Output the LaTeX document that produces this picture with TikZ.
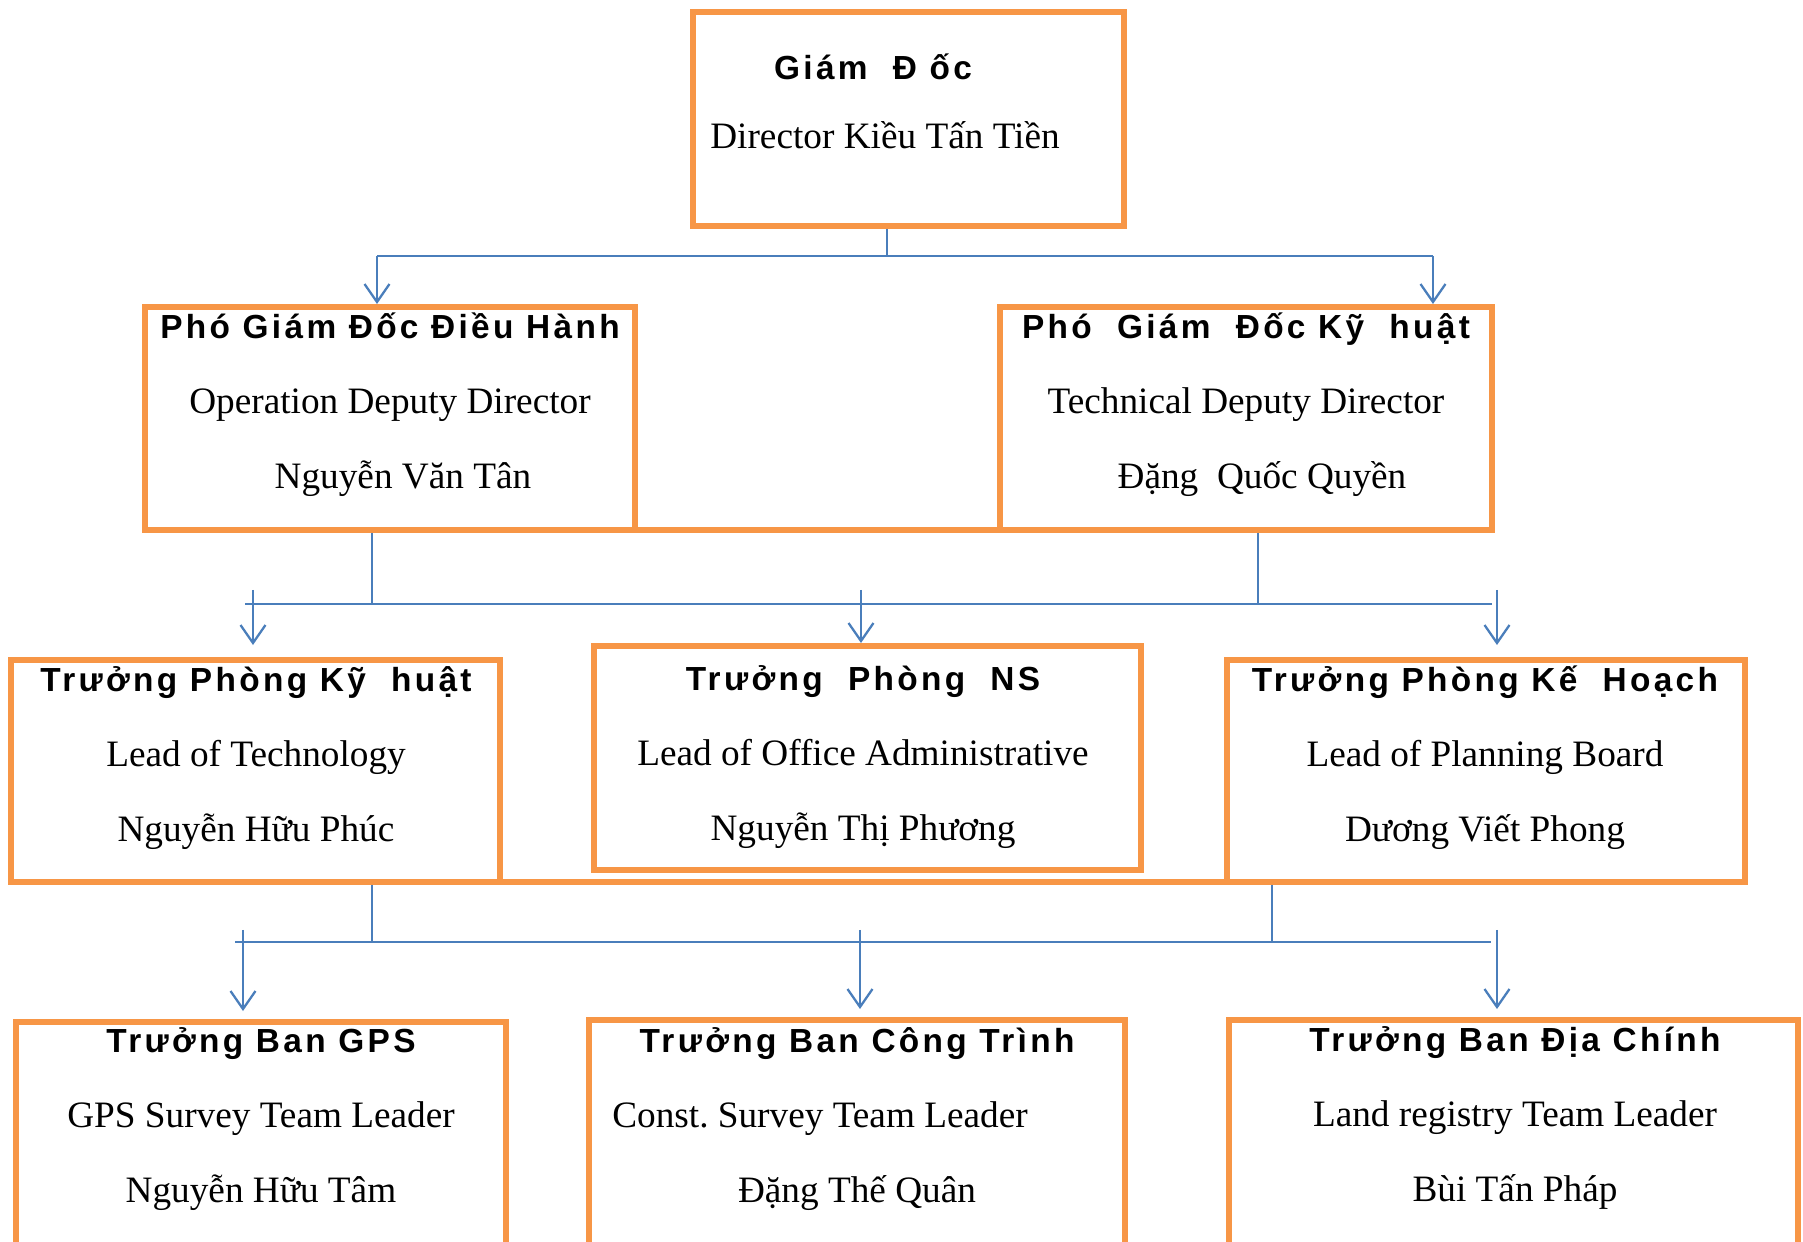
\documentclass[tikz,border=0pt]{standalone}
\usepackage{fontspec}
\setmainfont{Liberation Serif}
\newfontfamily\ttlfont{Liberation Sans}[LetterSpace=10]
\usetikzlibrary{arrows.meta}
\definecolor{boxorange}{HTML}{F79646}
\definecolor{lineblue}{HTML}{4A7EBB}
\newcommand{\ttl}[1]{{\fontsize{9.5}{21.34}\selectfont\ttlfont\bfseries #1}}
\frenchspacing

\begin{document}
\begin{tikzpicture}[y=-1cm,
    box/.style={draw=boxorange, line width=1.7pt, inner sep=0pt, minimum height=2.23cm},
    boxjoin/.style={draw=boxorange, line width=1.7pt},
    txt/.style={anchor=base, align=center, inner sep=0pt, font=\fontsize{10.6}{21.34}\selectfont},
    link/.style={draw=lineblue, line width=0.65pt},
    arr/.style={link, -{Straight Barb[length=0.18cm, width=0.25cm]}}]
    \useasboundingbox (0,0) rectangle (18.03,12.42);
    \clip (0,0) rectangle (18.03,12.42);

    \node[box, minimum width=4.31cm, minimum height=2.14cm] (gd) at (9.085,1.19) {};
    \node[txt] (gd-t) at (8.85,1.49) {\ttl{Giám\ \ Đ ốc}\kern0.24cm\\[-0.06cm] Director Kiều Tấn Tiền};

    \node[box, minimum width=4.90cm] (opdep) at (3.90,4.185) {};
    \node[txt] (opdep-t) at (3.90,4.89) {\ttl{Phó Giám Đốc Điều Hành}\\ Operation Deputy Director\\ \hspace*{0.26cm}Nguyễn Văn Tân};
    \node[box, minimum width=4.92cm] (tecdep) at (12.46,4.185) {};
    \node[txt] (tecdep-t) at (12.46,4.89) {\ttl{Phó\ \ Giám\ \ Đốc Kỹ\ \ huật}\\ Technical Deputy Director\\ \hspace*{0.32cm}Đặng\ \ Quốc Quyền};

    \node[box, minimum width=4.89cm, minimum height=2.22cm] (tpkt) at (2.555,7.71) {};
    \node[txt] (tpkt-t) at (2.56,8.42) {\ttl{Trưởng Phòng Kỹ\ \ huật}\\ Lead of Technology\\ Nguyễn Hữu Phúc};
    \node[box, minimum width=5.47cm, minimum height=2.24cm] (tpns) at (8.675,7.58) {};
    \node[txt] (tpns-t) at (8.63,8.41) {\ttl{Trưởng\ \ Phòng\ \ NS}\\ Lead of Office Administrative\\ Nguyễn Thị Phương};
    \node[box, minimum width=5.18cm, minimum height=2.22cm] (tpkh) at (14.86,7.71) {};
    \node[txt] (tpkh-t) at (14.85,8.42) {\ttl{Trưởng Phòng Kế\ \ Hoạch}\\ Lead of Planning Board\\ Dương Viết Phong};

    \node[box, minimum width=4.90cm, minimum height=2.60cm] (tbgps) at (2.61,11.52) {};
    \node[txt] (tbgps-t) at (2.61,12.03) {\ttl{Trưởng Ban GPS}\\ GPS Survey Team Leader\\ Nguyễn Hữu Tâm};
    \node[box, minimum width=5.36cm, minimum height=2.60cm] (tbct) at (8.57,11.50) {};
    \node[txt] (tbct-t) at (8.57,12.03) {\ttl{Trưởng Ban Công Trình}\\ Const. Survey Team Leader\kern0.74cm\\ Đặng Thế Quân};
    \node[box, minimum width=5.69cm, minimum height=2.60cm] (tbdc) at (15.135,11.50) {};
    \node[txt] (tbdc-t) at (15.15,12.02) {\ttl{Trưởng Ban Địa Chính}\\ Land registry Team Leader\\ Bùi Tấn Pháp};

    \draw[boxjoin] ([yshift=0.85pt]opdep.south east) -- ([yshift=0.85pt]tecdep.south west);
    \draw[boxjoin] ([yshift=0.85pt]tpkt.south east) -- ([yshift=0.85pt]tpkh.south west);

    \coordinate (j1) at (8.87,2.56);
    \coordinate (b1l) at (3.77,2.56);
    \coordinate (b1r) at (14.33,2.56);
    \draw[link] (gd.south -| j1) -- (j1);
    \draw[link] (b1l) -- (b1r);
    \draw[arr] (b1l) -- (b1l |- opdep.north);
    \draw[arr] (b1r) -- (b1r |- tecdep.north);

    \coordinate (j2l) at (3.72,6.04);
    \coordinate (j2r) at (12.58,6.04);
    \coordinate (b2l) at (2.45,6.04);
    \coordinate (b2r) at (14.92,6.04);
    \coordinate (a2l) at (2.53,5.90);
    \coordinate (a2m) at (8.61,5.90);
    \coordinate (a2r) at (14.97,5.90);
    \draw[link] (opdep.south -| j2l) -- (j2l);
    \draw[link] (tecdep.south -| j2r) -- (j2r);
    \draw[link] (b2l) -- (b2r);
    \draw[arr, shorten >=0.12cm] (a2l) -- (a2l |- tpkt.north);
    \draw[arr] (a2m) -- (a2m |- tpns.north);
    \draw[arr, shorten >=0.12cm] (a2r) -- (a2r |- tpkh.north);

    \coordinate (j3l) at (3.72,9.42);
    \coordinate (j3r) at (12.72,9.42);
    \coordinate (b3l) at (2.35,9.42);
    \coordinate (b3r) at (14.91,9.42);
    \coordinate (a3l) at (2.43,9.30);
    \coordinate (a3m) at (8.60,9.30);
    \coordinate (a3r) at (14.97,9.30);
    \draw[link] (tpkt.south -| j3l) -- (j3l);
    \draw[link] (tpkh.south -| j3r) -- (j3r);
    \draw[link] (b3l) -- (b3r);
    \draw[arr, shorten >=0.08cm] (a3l) -- (a3l |- tbgps.north);
    \draw[arr, shorten >=0.08cm] (a3m) -- (a3m |- tbct.north);
    \draw[arr, shorten >=0.08cm] (a3r) -- (a3r |- tbdc.north);
\end{tikzpicture}
\end{document}
